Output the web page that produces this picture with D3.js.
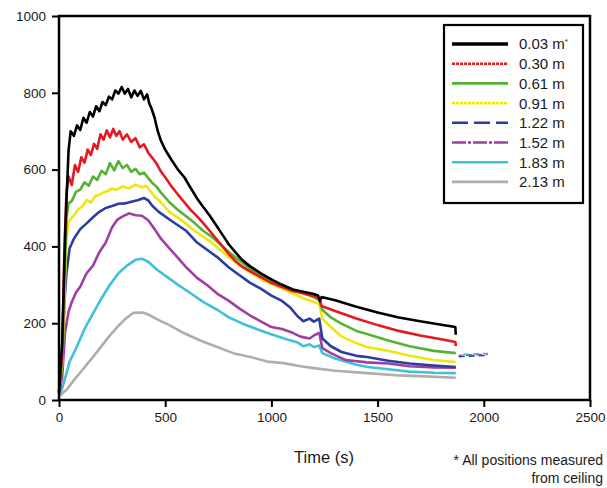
<!DOCTYPE html>
<html>
<head>
<meta charset="utf-8">
<script src="https://cdn.jsdelivr.net/npm/d3@7"></script>
<style>
  body { margin: 0; background: #fff; }
  svg text { font-family: "Liberation Sans", Arial, sans-serif; fill: #1a1a1a; }
</style>
</head>
<body>
<div id="chart"></div>
<script>
// temperature vs time at 8 heights below ceiling
const labels = ["0.03 m", "0.30 m", "0.61 m", "0.91 m", "1.22 m", "1.52 m", "1.83 m", "2.13 m"];
const colors = ["#000000", "#e5191f", "#55b333", "#f0e60f", "#2b3e9e", "#a03ea3", "#3fc1d9", "#b4abab"];
const legendDash = [null, "3,1", null, "3,1", "16,6", "14,2,3,2", null, null];

const xTicks = [0, 500, 1000, 1500, 2000, 2500];
const yTicks = [0, 200, 400, 600, 800, 1000];

const s003 = [[0,20],[15,150],[30,450],[45,650],[55,700],[70,688],[85,715],[100,703],[115,735],[130,722],[145,750],[160,738],[175,765],[190,752],[205,776],[220,768],[235,790],[250,783],[265,806],[280,798],[295,815],[310,798],[325,810],[340,788],[355,806],[370,792],[385,805],[400,783],[415,796],[425,772],[435,760],[450,735],[465,700],[480,675],[500,652],[530,625],[560,600],[590,580],[620,552],[650,525],[680,502],[710,480],[740,455],[770,430],[800,405],[830,385],[860,366],[900,348],[950,330],[1000,314],[1050,300],[1100,288],[1150,282],[1200,276],[1220,272],[1228,258],[1236,268],[1300,260],[1400,243],[1500,228],[1600,215],[1700,205],[1800,196],[1866,190],[1868,170]];
const s030 = [[0,20],[15,120],[25,380],[35,540],[45,582],[60,560],[75,612],[90,594],[105,632],[120,618],[135,652],[150,638],[165,667],[180,654],[195,692],[210,678],[225,702],[240,684],[255,706],[270,688],[285,700],[300,678],[320,692],[340,672],[360,682],[380,658],[400,666],[420,644],[440,630],[460,615],[480,595],[500,580],[530,556],[560,535],[590,515],[620,495],[650,478],[680,460],[710,440],[740,420],[770,400],[800,380],[830,362],[860,348],[900,335],[950,320],[1000,305],[1050,294],[1100,284],[1150,278],[1200,270],[1225,265],[1236,245],[1300,232],[1400,212],[1500,195],[1600,180],[1700,168],[1800,158],[1866,151],[1868,140]];
const s061 = [[0,20],[15,100],[25,300],[35,470],[45,512],[60,518],[80,542],[100,548],[120,567],[140,558],[160,582],[180,573],[200,597],[220,588],[240,617],[260,598],[280,622],[300,604],[320,612],[340,594],[360,602],[380,588],[400,592],[420,578],[440,565],[460,555],[480,540],[520,515],[560,495],[600,478],[640,460],[680,440],[720,425],[760,405],[800,385],[840,368],[880,350],[920,335],[960,322],[1000,311],[1050,298],[1100,288],[1150,278],[1200,268],[1225,260],[1240,235],[1280,215],[1325,200],[1400,180],[1450,172],[1550,155],[1650,140],[1765,128],[1868,122]];
const s091 = [[0,20],[15,90],[25,260],[35,420],[45,465],[70,480],[90,496],[110,504],[130,521],[150,514],[170,531],[190,534],[210,541],[230,544],[250,551],[270,547],[300,556],[330,551],[360,561],[390,554],[410,558],[430,545],[450,530],[480,515],[520,490],[560,475],[600,458],[640,440],[680,425],[720,410],[760,390],[800,372],[840,355],[880,340],[920,326],[960,312],[1000,302],[1050,290],[1100,278],[1150,265],[1200,255],[1225,250],[1240,212],[1280,190],[1330,165],[1400,148],[1450,138],[1550,128],[1650,115],[1765,104],[1868,99]];
const s122 = [[0,20],[15,80],[25,250],[35,330],[50,395],[70,420],[100,445],[130,460],[160,476],[190,490],[220,500],[250,505],[280,511],[310,512],[340,516],[370,520],[400,526],[420,520],[440,505],[470,490],[520,470],[560,455],[600,440],[650,410],[700,390],[750,370],[800,345],[850,325],[900,305],[950,290],[1000,272],[1050,258],[1090,240],[1120,220],[1150,205],[1180,212],[1200,204],[1225,212],[1240,160],[1280,140],[1330,125],[1400,115],[1450,112],[1550,102],[1650,95],[1765,90],[1868,86]];
const s152 = [[0,15],[15,60],[28,175],[45,230],[60,255],[80,280],[100,295],[130,330],[160,350],[190,385],[220,410],[250,450],[275,470],[300,478],[330,486],[360,481],[390,480],[420,468],[450,445],[480,420],[520,395],[560,370],[600,345],[650,318],[700,298],[750,275],[800,258],[850,238],[900,220],[950,205],[1000,190],[1050,185],[1100,175],[1137,165],[1180,160],[1200,168],[1225,175],[1240,135],[1280,122],[1350,104],[1450,98],[1550,95],[1650,88],[1765,85],[1868,84]];
const s183 = [[0,10],[15,30],[28,55],[50,100],[85,140],[120,185],[160,225],[200,265],[240,300],[280,330],[320,350],[360,365],[390,368],[420,360],[460,340],[510,320],[560,300],[620,278],[680,255],[745,235],[800,215],[868,198],[930,185],[995,172],[1060,160],[1123,150],[1150,140],[1180,145],[1200,138],[1225,142],[1240,122],[1300,108],[1400,92],[1453,86],[1550,80],[1650,74],[1765,71],[1868,70]];
const s213 = [[0,10],[38,28],[75,55],[113,80],[150,105],[193,135],[235,165],[274,190],[310,210],[350,227],[396,228],[430,220],[462,210],[520,195],[585,175],[665,155],[745,138],[820,122],[901,112],[981,100],[1057,96],[1137,88],[1200,83],[1300,76],[1453,70],[1600,64],[1750,61],[1868,58]];
const series = [s003, s030, s061, s091, s122, s152, s183, s213];

// short stub after the end of the record (~1880-2020 s)
const tailSeries = [4, 5, 6];
const tailData = [[[1882,113],[1950,115],[2020,116]], [[1882,116],[1950,118],[2020,119]], [[1882,119],[1950,120],[2020,121]]];

const width = 607, height = 488;
const svg = d3.select("#chart").append("svg")
  .attr("width", width)
  .attr("height", height);

const x = d3.scaleLinear().domain([0, 2500]).range([59, 590]);
const y = d3.scaleLinear().domain([0, 1000]).range([400, 16]);

const line = d3.line()
  .x(d => x(d[0]))
  .y(d => y(d[1]));

// curves, lowest first so the top ones sit over them
series.slice().reverse().forEach((s, k) => {
  const i = series.length - 1 - k;
  svg.append("path")
    .datum(s)
    .attr("fill", "none")
    .attr("stroke", colors[i])
    .attr("stroke-width", 2.6)
    .attr("stroke-linejoin", "round")
    .attr("d", line);
});

tailData.forEach((t, k) => {
  svg.append("path")
    .datum(t)
    .attr("fill", "none")
    .attr("stroke", colors[tailSeries[k]])
    .attr("stroke-width", 1.6)
    .attr("stroke-dasharray", "6,4")
    .attr("stroke-dashoffset", k * 3)
    .attr("d", line);
});

// frame
svg.append("rect")
  .attr("x", x(0)).attr("y", y(1000))
  .attr("width", x(2500) - x(0))
  .attr("height", y(0) - y(1000))
  .attr("fill", "none")
  .attr("stroke", "#000")
  .attr("stroke-width", 2.5);

// axes
const xAxis = svg.append("g")
  .attr("transform", `translate(0,${y(0)})`)
  .call(d3.axisBottom(x).tickValues(xTicks).tickSize(7).tickPadding(5).tickFormat(d3.format("d")));
const yAxis = svg.append("g")
  .attr("transform", `translate(${x(0)},0)`)
  .call(d3.axisLeft(y).tickValues(yTicks).tickSize(7).tickPadding(6).tickFormat(d3.format("d")));

[xAxis, yAxis].forEach(a => {
  a.select(".domain").remove();
  a.selectAll(".tick line").attr("stroke", "#000").attr("stroke-width", 2);
  a.selectAll(".tick text")
    .attr("font-family", "'Liberation Sans', Arial, sans-serif")
    .attr("font-size", 13.5)
    .attr("fill", "#1a1a1a");
});

svg.append("text")
  .attr("x", 324).attr("y", 463)
  .attr("text-anchor", "middle")
  .attr("font-size", 16.5)
  .text("Time (s)");

svg.append("text")
  .attr("x", 603).attr("y", 465)
  .attr("text-anchor", "end")
  .attr("font-size", 14)
  .text("* All positions measured");
svg.append("text")
  .attr("x", 603).attr("y", 483)
  .attr("text-anchor", "end")
  .attr("font-size", 14)
  .text("from ceiling");

// legend
const legend = svg.append("g");
legend.append("rect")
  .attr("x", 444).attr("y", 25)
  .attr("width", 139).attr("height", 178)
  .attr("fill", "#fff")
  .attr("stroke", "#000")
  .attr("stroke-width", 2.2);

const rows = legend.selectAll("g.row")
  .data(labels)
  .join("g")
  .attr("class", "row")
  .attr("transform", (d, i) => `translate(0,${44 + i * 19.7})`);

rows.append("line")
  .attr("x1", 452).attr("x2", 508)
  .attr("stroke", (d, i) => colors[i])
  .attr("stroke-width", (d, i) => i === 0 ? 3.5 : 2.6)
  .attr("stroke-dasharray", (d, i) => legendDash[i]);

const lt = rows.append("text")
  .attr("x", 519)
  .attr("dy", "0.36em")
  .attr("font-size", 15)
  .text(d => d);
lt.filter((d, i) => i === 0)
  .append("tspan")
  .attr("font-size", 8)
  .attr("dy", "-0.7em")
  .text("*");
</script>
</body>
</html>
